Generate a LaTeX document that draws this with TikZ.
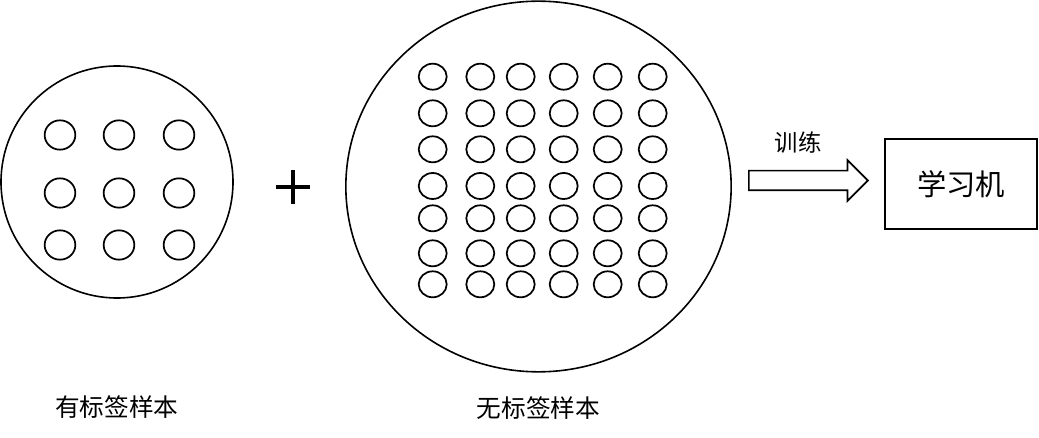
\documentclass[tikz,border=0pt]{standalone}
\usepackage{fontspec}
\newfontfamily\cjk{Noto Sans CJK SC}
\usetikzlibrary{shapes.geometric,shapes.arrows}

\begin{document}
\begin{tikzpicture}[x=0.75pt, y=-0.75pt,
		set_style/.style={ellipse,draw=black,line width=1.2pt,inner sep=0pt},
		sample_style/.style={ellipse,draw=black,line width=1.3pt,inner sep=0pt,minimum width=21pt,minimum height=19.5pt},
		label_style/.style={font=\cjk\fontsize{18.5pt}{22pt}\selectfont},
		arrow_style/.style={single arrow,draw=black,line width=1.3pt,inner xsep=0pt,inner ysep=6.75pt,
			single arrow head extend=7.875pt,single arrow head indent=0pt,minimum height=89.25pt},
		box_style/.style={rectangle,draw=black,line width=1.3pt,minimum width=114pt,minimum height=67.5pt,
			font=\cjk\fontsize{22pt}{26pt}\selectfont}]
		
		\useasboundingbox (0,0) rectangle (1039,438);
		
		% labelled samples
		\node[set_style,minimum width=174pt,minimum height=174pt] (lab) at (117,182) {};
		\foreach \i/\x in {1/60,2/119,3/179}
			\foreach \j/\y in {1/135,2/193,3/245}
				\node[sample_style,minimum width=23pt,minimum height=22pt] (l\i\j) at (\x,\y) {};
		\node[label_style] (lab_text) at (117,407) {有标签样本};
		
		% plus
		\coordinate (plus) at (293,187);
		\draw[line width=3pt] ([xshift=-12.4pt]plus) -- ([xshift=12.4pt]plus);
		\draw[line width=3pt] ([yshift=-12.4pt]plus) -- ([yshift=12.4pt]plus);
		
		% unlabelled samples
		\node[set_style,minimum width=289pt,minimum height=278pt] (unlab) at (538.5,186.5) {};
		\foreach \i/\x in {1/432.7,2/480.3,3/520.7,4/563.7,5/607.7,6/652.7}
			\foreach \j/\y in {1/76.7,2/113.3,3/149.3,4/186,5/218.3,6/253.3,7/284.3}
				\node[sample_style] (u\i\j) at (\x,\y) {};
		\node[label_style] (unlab_text) at (538.5,408) {无标签样本};
		
		% training
		\node[arrow_style,anchor=tail] (train) at (748,180.5) {};
		\node[label_style,font=\cjk\fontsize{17.5pt}{21pt}\selectfont] (train_text) at (798,143) {训练};
		\node[box_style] (learner) at (961,184) {学习机};
		
\end{tikzpicture}
\end{document}
